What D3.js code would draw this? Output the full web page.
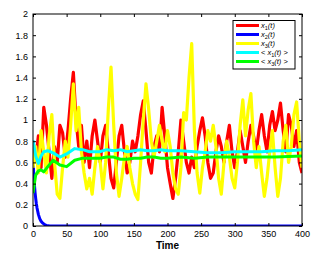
<!DOCTYPE html>
<html>
<head>
  <script src="https://cdn.jsdelivr.net/npm/d3@7"></script>
  <style>
    body { margin: 0; background: #fff; }
    text { font-family: "Liberation Sans", Arial, sans-serif; }
  </style>
</head>
<body>
  <script>

  var width = 319
  var height = 255
  var margin = {top: 14, right: 17, bottom: 29, left: 33};

  // time grid for the noisy series (step 4)
  var tNoisy = d3.range(0, 401, 4);

  var x1 = [0.8, 0.62, 0.85, 0.55, 1.12, 0.95, 0.7, 0.45, 0.75, 0.6,
            0.95, 0.88, 0.65, 0.9, 1.2, 1.45, 1.0, 0.75, 0.95, 0.6,
            0.8, 0.55, 0.85, 1.0, 0.8, 0.6, 0.85, 0.95, 0.7, 0.45,
            0.36, 0.6, 0.85, 0.95, 0.7, 0.5, 0.6, 0.8, 0.7, 0.85,
            1.05, 1.18, 0.9, 0.6, 0.5, 0.75, 0.85, 0.7, 1.12, 0.85,
            0.55, 0.4, 0.26, 0.45, 0.7, 1.0, 0.8, 0.6, 0.5, 0.65,
            0.55, 0.75, 0.9, 1.02, 0.85, 0.6, 0.45, 0.5, 0.7, 0.85,
            0.75, 0.6, 0.8, 0.95, 0.7, 0.55, 0.7, 0.9, 0.75, 0.6,
            0.8, 0.95, 0.85, 0.7, 0.9, 1.05, 0.85, 0.7, 0.95, 1.08,
            0.9, 1.0, 1.16, 0.9, 0.7, 1.05, 0.95, 0.75, 0.9, 0.6, 0.5];

  var x3 = [0.55, 0.75, 0.5, 0.9, 0.7, 0.5, 0.85, 1.05, 0.6, 0.3,
            0.26, 0.55, 0.8, 0.65, 0.95, 1.34, 0.9, 1.12, 0.7, 0.5,
            0.35, 0.45, 0.3, 0.55, 0.75, 0.6, 0.35, 0.6, 1.1, 1.5,
            0.95, 0.5, 0.28, 0.45, 0.65, 0.75, 0.55, 0.4, 0.3, 0.25,
            0.6, 1.0, 1.34, 1.1, 0.8, 0.65, 0.8, 0.95, 0.8, 0.7,
            0.9, 0.75, 0.5, 0.35, 0.3, 0.55, 1.07, 1.0, 1.4, 1.72,
            0.9, 0.5, 0.31, 0.55, 0.7, 0.9, 0.8, 0.95, 0.75, 0.45,
            0.3, 0.6, 0.8, 0.65, 0.45, 0.36, 0.6, 0.95, 1.19, 0.85,
            1.1, 1.25, 0.8, 0.55, 0.75, 0.5, 0.28, 0.45, 0.7, 0.9,
            0.55, 0.28, 0.45, 0.8, 0.95, 0.6, 0.75, 1.05, 1.17, 0.8, 0.55];

  var tX2 = [0, 1, 2, 3, 4, 5, 6, 8, 10, 12, 14, 16, 18, 20, 25, 30, 400];
  var x2 = [0.65, 0.5, 0.4, 0.32, 0.26, 0.21, 0.17, 0.11, 0.07, 0.045, 0.03, 0.02, 0.01, 0.005, 0, 0, 0];

  var tMean = [0, 4, 8, 12, 16, 22, 30, 40, 50, 62, 74, 84, 99, 110, 120, 130, 140, 150,
               160, 170, 180, 190, 200, 220, 240, 260, 280, 300, 320, 340, 360, 380, 400];
  var meanX1 = [0.81, 0.66, 0.59, 0.66, 0.70, 0.71, 0.69, 0.65, 0.68, 0.73, 0.72, 0.70, 0.70, 0.72, 0.71, 0.72, 0.70, 0.71,
                0.72, 0.71, 0.71, 0.72, 0.71, 0.71, 0.70, 0.69, 0.69, 0.70, 0.70, 0.70, 0.71, 0.71, 0.72];
  var meanX3 = [0.31, 0.48, 0.52, 0.53, 0.51, 0.56, 0.62, 0.575, 0.56, 0.62, 0.64, 0.64, 0.64, 0.65, 0.65, 0.63, 0.63, 0.64,
                0.64, 0.65, 0.65, 0.64, 0.64, 0.65, 0.64, 0.65, 0.65, 0.65, 0.65, 0.65, 0.65, 0.655, 0.66];

  var xTicks = d3.range(0, 401, 50);
  var yTicks = d3.range(0, 2.01, 0.2);

  var legendNames = [["x", "1", "(t)", ""], ["x", "2", "(t)", ""], ["x", "3", "(t)", ""],
                     ["x", "1", "(t)", "<"], ["x", "3", "(t)", "<"]];
  var colors = ["#ff0000", "#0000ff", "#ffff00", "#00ffff", "#00ff00"];

  var svg = d3.select('body').append("svg")
    .attr("width", width)
    .attr("height", height);

  svg.append("rect").attr("width", width).attr("height", height).attr("fill", "#fff");

  var x = d3.scaleLinear().domain([0, 400]).range([margin.left, width - margin.right]);
  var y = d3.scaleLinear().domain([0, 2]).range([height - margin.bottom, margin.top]);

  var clip = svg.append("clipPath").attr("id", "clip").append("rect")
    .attr("x", margin.left).attr("y", margin.top)
    .attr("width", x.range()[1] - margin.left).attr("height", y.range()[0] - margin.top);

  var plot = svg.append("g").attr("clip-path", "url(#clip)");

  var line = d3.line().x(function(d) { return x(d[0]); }).y(function(d) { return y(d[1]); });

  function zip(t, v) { return t.map(function(tt, i) { return [tt, v[i]]; }); }

  var series = [
    {data: zip(tNoisy, x1), color: colors[0], w: 3.2},
    {data: zip(tX2, x2), color: colors[1], w: 3},
    {data: zip(tNoisy, x3), color: colors[2], w: 3.2},
    {data: zip(tMean, meanX1), color: colors[3], w: 3},
    {data: zip(tMean, meanX3), color: colors[4], w: 3}
  ];

  plot.selectAll('.series')
    .data(series).enter()
    .append("path")
    .attr("d", function(d) { return line(d.data); })
    .attr("fill", "none")
    .attr("stroke", function(d) { return d.color; })
    .attr("stroke-width", function(d) { return d.w; })
    .attr("stroke-linejoin", "round");

  // axes (ticks inward, box)
  var fs = 9;
  svg.append("g")
    .attr("transform", "translate(0," + y(0) + ")")
    .call(d3.axisBottom(x).tickValues(xTicks).tickSize(-3).tickPadding(5))
    .call(function(g) { g.select(".domain").remove(); })
    .selectAll("text").attr("font-size", fs);
  svg.append("g")
    .attr("transform", "translate(0," + y(2) + ")")
    .call(d3.axisTop(x).tickValues(xTicks).tickSize(-3).tickFormat(""))
    .call(function(g) { g.select(".domain").remove(); });
  svg.append("g")
    .attr("transform", "translate(" + x(0) + ",0)")
    .call(d3.axisLeft(y).tickValues(yTicks).tickSize(-3).tickPadding(5).tickFormat(d3.format("~g")))
    .call(function(g) { g.select(".domain").remove(); })
    .selectAll("text").attr("font-size", fs);
  svg.append("g")
    .attr("transform", "translate(" + x(400) + ",0)")
    .call(d3.axisRight(y).tickValues(yTicks).tickSize(-3).tickFormat(""))
    .call(function(g) { g.select(".domain").remove(); });

  svg.append("rect")
    .attr("x", x(0)).attr("y", y(2))
    .attr("width", x(400) - x(0)).attr("height", y(0) - y(2))
    .attr("fill", "none").attr("stroke", "#000").attr("stroke-width", 1);

  svg.append("text")
    .attr("x", (x(0) + x(400)) / 2).attr("y", 249)
    .attr("text-anchor", "middle").attr("font-size", 10).attr("font-weight", "bold")
    .text("Time");

  // legend
  var lg = svg.append("g");
  lg.append("rect").attr("x", 233).attr("y", 20.5).attr("width", 62).attr("height", 48.5)
    .attr("fill", "#fff").attr("stroke", "#000").attr("stroke-width", 1);
  legendNames.forEach(function(n, i) {
    var yy = 25.5 + i * 9;
    lg.append("line").attr("x1", 236).attr("x2", 259).attr("y1", yy).attr("y2", yy)
      .attr("stroke", colors[i]).attr("stroke-width", 3);
    var t = lg.append("text").attr("x", 261).attr("y", yy + 2.5)
      .attr("font-size", 7.5).attr("font-family", "Liberation Serif, serif");
    if (n[3]) t.append("tspan").text("< ");
    t.append("tspan").attr("font-style", "italic").text(n[0]);
    t.append("tspan").attr("font-size", 5.5).attr("dy", 1.5).text(n[1]);
    t.append("tspan").attr("dy", -1.5).attr("font-style", "italic").text(n[2]);
    if (n[3]) t.append("tspan").text(" >");
  });

  </script>
</body>
</html>
